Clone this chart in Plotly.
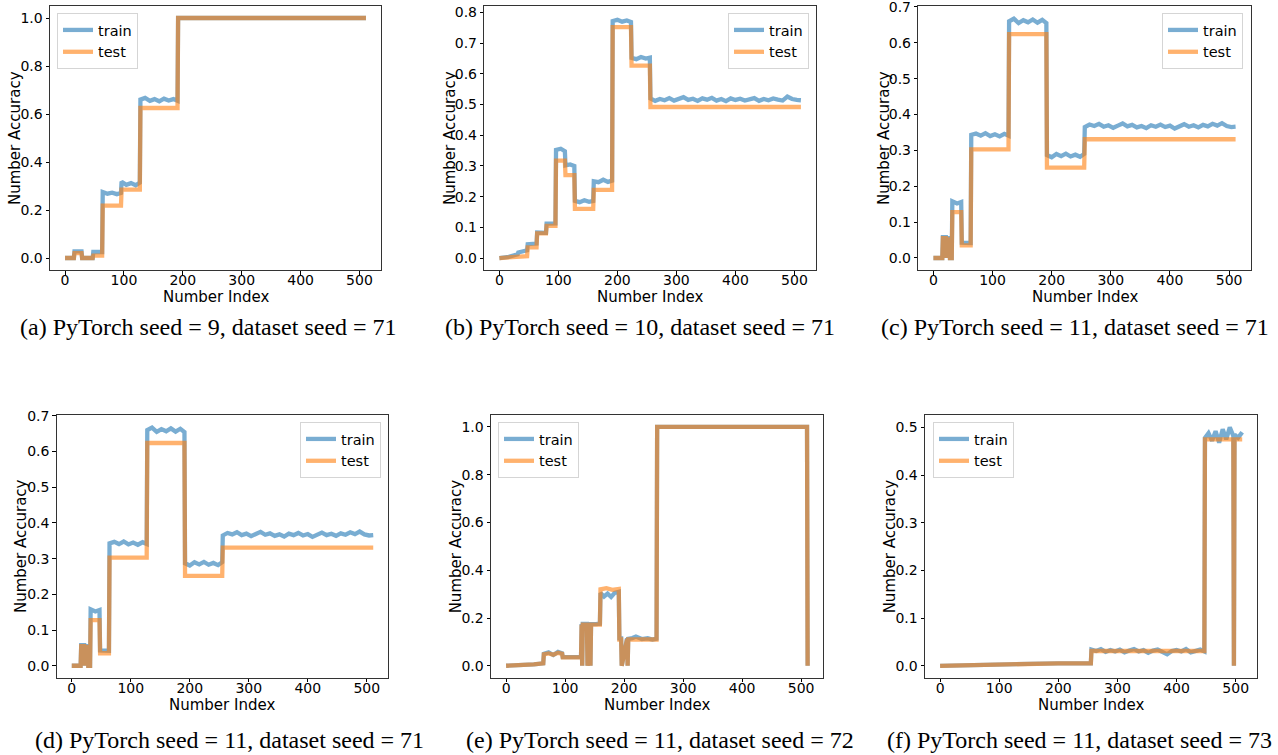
import plotly.graph_objects as go

# ---------------- data ----------------
x_ticks = [0, 100, 200, 300, 400, 500]

# (a) PyTorch seed = 9, dataset seed = 71
a_train_x = [0, 15, 16, 28, 29, 47, 48, 63, 64, 72, 80, 88, 95, 96, 104, 112, 120, 127,
             128, 136, 144, 152, 160, 168, 176, 184, 191, 192, 511]
a_train_y = [0, 0, 0.028, 0.028, 0.0, 0.0, 0.025, 0.025, 0.275, 0.268, 0.272, 0.266, 0.271,
             0.318, 0.305, 0.312, 0.303, 0.314, 0.66, 0.667, 0.655, 0.662, 0.653, 0.664,
             0.656, 0.662, 0.655, 1.0, 1.0]
a_test_x = [0, 15, 16, 28, 29, 47, 48, 63, 64, 95, 96, 127, 128, 191, 192, 511]
a_test_y = [0, 0, 0.02, 0.02, 0.0, 0.0, 0.01, 0.01, 0.218, 0.218, 0.285, 0.285, 0.625,
            0.625, 1.0, 1.0]

# (b) PyTorch seed = 10, dataset seed = 71
b_train_x = [0, 16, 31, 32, 47, 48, 63, 64, 79, 80, 95, 96, 104, 111, 112, 120, 127, 128,
             136, 144, 152, 159, 160, 168, 176, 184, 191, 192, 200, 208, 216, 223, 224, 232,
             240, 248, 255,
             256, 264, 272, 280, 288, 296, 304, 312, 320, 328, 336, 344, 352, 360, 368, 376,
             384, 392, 400, 408, 416, 424, 432, 440, 448, 456, 464, 472, 480, 488, 496, 504,
             511]
b_train_y = [0, 0.004, 0.012, 0.018, 0.025, 0.045, 0.047, 0.083, 0.082, 0.112, 0.113, 0.352,
             0.356, 0.348, 0.302, 0.305, 0.300, 0.186, 0.182, 0.188, 0.183, 0.186, 0.25,
             0.247, 0.255, 0.248, 0.252, 0.772, 0.776, 0.77, 0.774, 0.769, 0.652, 0.648,
             0.655, 0.65, 0.653,
             0.52, 0.512, 0.518, 0.514, 0.521, 0.513, 0.517, 0.524, 0.515, 0.519, 0.512,
             0.52, 0.516, 0.522, 0.513, 0.518, 0.511, 0.52, 0.515, 0.519, 0.513, 0.517,
             0.521, 0.512, 0.518, 0.514, 0.52, 0.516, 0.513, 0.526, 0.518, 0.515, 0.514]
b_test_x = [0, 31, 47, 48, 63, 64, 79, 80, 95, 96, 111, 112, 127, 128, 159, 160, 191, 192,
            223, 224, 255, 256, 511]
b_test_y = [0, 0.002, 0.006, 0.035, 0.035, 0.08, 0.08, 0.105, 0.105, 0.317, 0.317, 0.27,
            0.27, 0.16, 0.16, 0.222, 0.222, 0.752, 0.752, 0.627, 0.627, 0.492, 0.492]

# (c) and (d) PyTorch seed = 11, dataset seed = 71
c_train_x = [0, 15, 16, 21, 22, 23, 27, 28, 31, 32, 40, 47, 48, 63, 64, 72, 80, 88, 96, 104,
             112, 120, 127, 128, 136, 144, 152, 160, 168, 176, 184, 191, 192, 200, 208, 216,
             224, 232, 240, 248, 255,
             256, 264, 272, 280, 288, 296, 304, 312, 320, 328, 336, 344, 352, 360, 368, 376,
             384, 392, 400, 408, 416, 424, 432, 440, 448, 456, 464, 472, 480, 488, 496, 504,
             511]
c_train_y = [0, 0, 0.058, 0.058, 0.0, 0.055, 0.055, 0.0, 0.0, 0.158, 0.152, 0.156, 0.043,
             0.042, 0.343, 0.347, 0.341, 0.348, 0.340, 0.345, 0.339, 0.346, 0.341, 0.66,
             0.667, 0.655, 0.663, 0.657, 0.665, 0.656, 0.664, 0.655, 0.287, 0.281, 0.29,
             0.284, 0.291, 0.283, 0.288, 0.282, 0.29,
             0.365, 0.372, 0.368, 0.374, 0.366, 0.37, 0.363, 0.369, 0.375, 0.367, 0.371,
             0.364, 0.368, 0.362, 0.37, 0.366, 0.372, 0.365, 0.369, 0.361, 0.368, 0.373,
             0.366, 0.37, 0.364, 0.371, 0.367, 0.374, 0.369, 0.376, 0.368, 0.365, 0.366]
c_test_x = [0, 15, 16, 21, 22, 23, 27, 28, 31, 32, 47, 48, 63, 64, 127, 128, 191, 192, 255,
            256, 511]
c_test_y = [0, 0, 0.055, 0.055, 0.0, 0.052, 0.052, 0.0, 0.0, 0.128, 0.128, 0.035, 0.035,
            0.303, 0.303, 0.624, 0.624, 0.252, 0.252, 0.331, 0.331]

# (e) PyTorch seed = 11, dataset seed = 72
e_train_x = [0, 31, 47, 63, 64, 72, 80, 88, 95, 96, 112, 127, 128, 129, 130, 137, 138, 142,
             143, 144, 152, 159, 160, 166, 172, 178, 184, 191, 192, 195, 196, 205, 206, 207,
             214, 220, 230, 240, 248, 255, 256, 510, 511]
e_train_y = [0, 0.001, 0.006, 0.01, 0.05, 0.056, 0.045, 0.058, 0.052, 0.036, 0.034, 0.036,
             0.175, 0.0, 0.175, 0.175, 0.0, 0.175, 0.0, 0.175, 0.174, 0.176, 0.305, 0.29,
             0.302, 0.288, 0.305, 0.31, 0.115, 0.115, 0.0, 0.115, 0.0, 0.113, 0.116, 0.122,
             0.112, 0.115, 0.11, 0.113, 1.0, 1.0, 0.0]
e_test_x = [0, 31, 47, 63, 64, 72, 80, 88, 95, 96, 127, 128, 129, 130, 137, 138, 142, 143,
            144, 159, 160, 170, 180, 191, 192, 195, 196, 205, 206, 207, 255, 256, 510, 511]
e_test_y = [0, 0.001, 0.006, 0.01, 0.048, 0.052, 0.046, 0.054, 0.05, 0.035, 0.035, 0.172,
            0.0, 0.172, 0.172, 0.0, 0.172, 0.0, 0.172, 0.172, 0.32, 0.325, 0.318, 0.322,
            0.11, 0.11, 0.0, 0.11, 0.0, 0.11, 0.11, 1.0, 1.0, 0.0]

# (f) PyTorch seed = 11, dataset seed = 73
f_train_x = [0, 50, 100, 150, 200, 255,
             256, 264, 272, 280, 288, 296, 304, 312, 320, 328, 336, 344, 352, 360, 368, 376,
             384, 392, 400, 408, 416, 424, 432, 440, 447,
             448, 454, 460, 466, 472, 478, 484, 490, 496, 497, 498, 504, 511]
f_train_y = [0, 0.002, 0.004, 0.004, 0.005, 0.005,
             0.034, 0.031, 0.035, 0.029, 0.033, 0.03, 0.034, 0.028, 0.032, 0.035, 0.03,
             0.033, 0.027, 0.032, 0.034, 0.029, 0.024, 0.031, 0.033, 0.03, 0.035, 0.028,
             0.032, 0.034, 0.03,
             0.478, 0.488, 0.472, 0.492, 0.468, 0.496, 0.475, 0.5, 0.482, 0.0, 0.485, 0.478,
             0.49]
f_test_x = [0, 100, 200, 255, 256, 447, 448, 496, 497, 498, 511]
f_test_y = [0, 0.003, 0.005, 0.005, 0.031, 0.031, 0.475, 0.475, 0.0, 0.475, 0.475]

captions = [
    "(a) PyTorch seed = 9, dataset seed = 71",
    "(b) PyTorch seed = 10, dataset seed = 71",
    "(c) PyTorch seed = 11, dataset seed = 71",
    "(d) PyTorch seed = 11, dataset seed = 71",
    "(e) PyTorch seed = 11, dataset seed = 72",
    "(f) PyTorch seed = 11, dataset seed = 73",
]
x_title = "Number Index"
y_title = "Number Accuracy"
y_ticks = [
    [0, 0.2, 0.4, 0.6, 0.8, 1.0],
    [0, 0.1, 0.2, 0.3, 0.4, 0.5, 0.6, 0.7, 0.8],
    [0, 0.1, 0.2, 0.3, 0.4, 0.5, 0.6, 0.7],
    [0, 0.1, 0.2, 0.3, 0.4, 0.5, 0.6, 0.7],
    [0, 0.2, 0.4, 0.6, 0.8, 1.0],
    [0, 0.1, 0.2, 0.3, 0.4, 0.5],
]
series = [
    (a_train_x, a_train_y, a_test_x, a_test_y),
    (b_train_x, b_train_y, b_test_x, b_test_y),
    (c_train_x, c_train_y, c_test_x, c_test_y),
    (c_train_x, c_train_y, c_test_x, c_test_y),
    (e_train_x, e_train_y, e_test_x, e_test_y),
    (f_train_x, f_train_y, f_test_x, f_test_y),
]
for s in series:
    assert len(s[0]) == len(s[1]) and len(s[2]) == len(s[3])

# ---------------- layout (pixel geometry) ----------------
W, H = 1278, 755
# axes frames in pixels: (left, right, top, bottom)
frames = [
    (50, 381, 6, 270),
    (484.3, 816, 6, 270),
    (918.3, 1250.7, 6, 270),
    (56.7, 388.3, 415, 677.7),
    (491, 822.7, 415, 677.7),
    (925, 1257.3, 415, 677.7),
]
y_ranges = [
    [-0.05, 1.05],
    [-0.039, 0.821],
    [-0.0335, 0.7025],
    [-0.0335, 0.7025],
    [-0.05, 1.05],
    [-0.025, 0.526],
]
# legend boxes: (x px, y px top, anchor)
legend_pos = [
    (57, 13, "left"),
    (809, 13, "right"),
    (1243, 13, "right"),
    (381, 422, "right"),
    (498, 422, "left"),
    (933, 422, "left"),
]
caption_pos = [(208.5, 327), (640, 327), (1074.5, 327),
               (229.5, 740), (660, 740), (1079, 740)]
ytitle_x = [15, 450, 884, 21.7, 456, 890]
xtitle_y = [297, 297, 297, 705, 705, 705]

TRAIN_C = "rgba(31,119,180,0.6)"
TEST_C = "rgba(255,127,14,0.6)"
FONT = "DejaVu Sans"

fig = go.Figure()
layout = dict(
    width=W, height=H, autosize=False,
    margin=dict(l=0, r=0, t=0, b=0, autoexpand=False),
    paper_bgcolor="white", plot_bgcolor="white",
    font=dict(family=FONT, size=14, color="black"),
    annotations=[],
)

for i, (tx, ty, sx, sy) in enumerate(series):
    n = i + 1
    xa = "x" if n == 1 else f"x{n}"
    ya = "y" if n == 1 else f"y{n}"
    lg = "legend" if n == 1 else f"legend{n}"
    fig.add_trace(go.Scatter(x=tx, y=ty, mode="lines", name="train",
                             line=dict(color=TRAIN_C, width=4.3),
                             xaxis=xa, yaxis=ya, legend=lg))
    fig.add_trace(go.Scatter(x=sx, y=sy, mode="lines", name="test",
                             line=dict(color=TEST_C, width=4.3),
                             xaxis=xa, yaxis=ya, legend=lg))
    l, r, t, b = frames[i]
    key = "" if n == 1 else str(n)
    layout[f"xaxis{key}"] = dict(
        domain=[l / W, r / W], anchor=ya, range=[-25.55, 536.55],
        tickvals=x_ticks, ticks="outside", ticklen=3.5, tickwidth=1, tickcolor="black",
        showline=True, linecolor="#333333", linewidth=1, mirror=True,
        showgrid=False, zeroline=False, ticklabelstandoff=-6,
        ticklabeloverflow="allow",
        tickfont=dict(family=FONT, size=14, color="black"),
    )
    layout[f"yaxis{key}"] = dict(
        domain=[1 - b / H, 1 - t / H], anchor=xa, range=y_ranges[i],
        tickvals=y_ticks[i], tickformat=".1f",
        ticks="outside", ticklen=3.5, tickwidth=1, tickcolor="black",
        showline=True, linecolor="#333333", linewidth=1, mirror=True,
        showgrid=False, zeroline=False, ticklabeloverflow="allow",
        tickfont=dict(family=FONT, size=14, color="black"),
    )
    lx, lyp, anc = legend_pos[i]
    layout[lg] = dict(
        x=lx / W, y=1 - lyp / H, xanchor=anc, yanchor="top",
        xref="paper", yref="paper",
        bgcolor="rgba(255,255,255,0.8)", bordercolor="#d5d5d5", borderwidth=1,
        font=dict(family=FONT, size=14.5, color="black"),
        tracegroupgap=0, itemwidth=30,
    )
    # axis titles
    layout["annotations"].append(dict(
        text=x_title, x=(l + r) / 2 / W, y=1 - xtitle_y[i] / H, xref="paper", yref="paper",
        xanchor="center", yanchor="middle", showarrow=False,
        font=dict(family=FONT, size=15, color="black"),
    ))
    layout["annotations"].append(dict(
        text=y_title, x=ytitle_x[i] / W, y=1 - (t + b) / 2 / H, xref="paper", yref="paper",
        xanchor="center", yanchor="middle", showarrow=False, textangle=-90,
        font=dict(family=FONT, size=15, color="black"),
    ))
    cx, cy = caption_pos[i]
    layout["annotations"].append(dict(
        text=captions[i], x=cx / W, y=1 - cy / H, xref="paper", yref="paper",
        xanchor="center", yanchor="middle", showarrow=False,
        font=dict(family="Liberation Serif", size=24, color="black"),
    ))

fig.update_layout(**layout)
fig.write_html("out.html", config={"displayModeBar": False},
               post_script="document.body.style.margin='0';document.body.style.overflow='hidden';")
